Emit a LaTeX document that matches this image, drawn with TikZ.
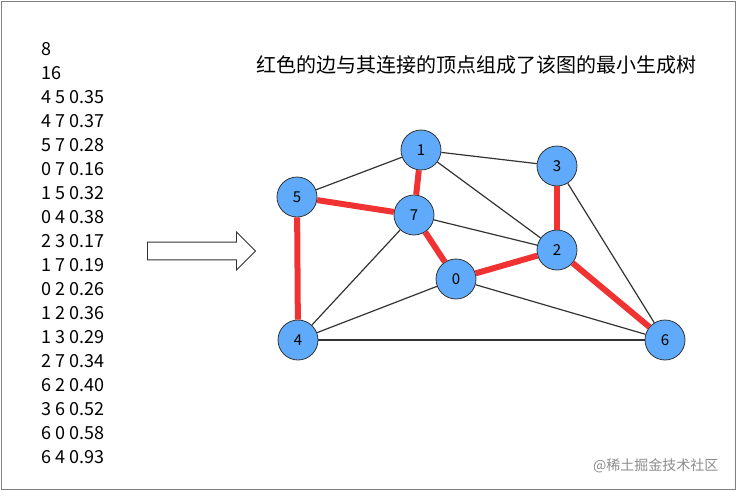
\documentclass[tikz,border=0pt]{standalone}
\usepackage{fontspec}
\setmainfont{Noto Sans CJK SC}
\usetikzlibrary{shapes.arrows}
\definecolor{vblue}{RGB}{95,170,250}
\definecolor{ered}{RGB}{240,50,50}
\tikzset{
  vert/.style={circle, draw=black!80, thick, fill=vblue, minimum size=40pt, inner sep=0pt, font=\fontsize{15}{15}\selectfont},
  plain/.style={draw=black!80, line width=1.2pt},
  tree/.style={draw=ered, line width=6pt}
}
\begin{document}
\begin{tikzpicture}[x=1pt, y=-1pt]
  \useasboundingbox (0,0) rectangle (736,490);
  \draw[black!50] (1,1) rectangle (735,489);
  % edge list
  \foreach \t [count=\i] in {8,16,4 5 0.35,4 7 0.37,5 7 0.28,0 7 0.16,1 5 0.32,0 4 0.38,2 3 0.17,1 7 0.19,0 2 0.26,1 2 0.36,1 3 0.29,2 7 0.34,6 2 0.40,3 6 0.52,6 0 0.58,6 4 0.93}
    \node[anchor=west, font=\fontsize{18}{18}\selectfont, inner sep=0pt] (l\i) at (41, 25+24*\i) {\t};
  \node[font=\fontsize{20}{20}\selectfont] (title) at (476, 65) {红色的边与其连接的顶点组成了该图的最小生成树};
  \node[single arrow, draw=black!80, thick, fill=white, minimum height=108pt, minimum width=38pt, single arrow head extend=5pt, inner sep=4pt] (arr) at (197, 251) {};
  % vertices
  \node[vert] (n1) at (421, 150) {1};
  \node[vert] (n3) at (557, 166) {3};
  \node[vert] (n5) at (297, 197) {5};
  \node[vert] (n7) at (414, 215) {7};
  \node[vert] (n2) at (557, 250) {2};
  \node[vert] (n0) at (456, 279) {0};
  \node[vert] (n4) at (298, 340) {4};
  \node[vert] (n6) at (665, 340) {6};
  % edges
  \foreach \a/\b in {5/1, 1/3, 1/2, 7/2, 7/4, 0/4, 3/6, 4/6, 0/6}
    \draw[plain] (n\a) -- (n\b);
  \foreach \a/\b in {5/7, 1/7, 7/0, 0/2, 2/3, 2/6, 5/4}
    \draw[tree] (n\a) -- (n\b);
  \node[text=black!45, font=\fontsize{14}{14}\selectfont, anchor=east] (mark) at (722, 466) {@稀土掘金技术社区};
\end{tikzpicture}
\end{document}
